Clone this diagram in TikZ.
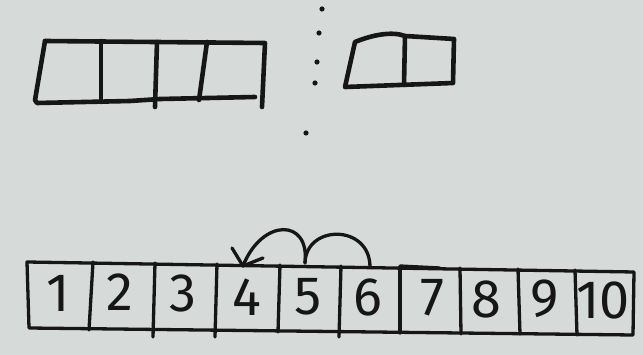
\documentclass[tikz,border=0pt]{standalone}
\usepackage{fontspec}
\setmainfont{Fira Sans}
\definecolor{paper}{RGB}{214,219,217}
\definecolor{ink}{RGB}{22,22,22}
\tikzset{
  pen/.style={draw=ink, line width=4.6pt, line cap=round, line join=round},
  thinpen/.style={draw=ink, line width=3.3pt, line cap=round, line join=round},
  digit/.style={text=ink, font=\fontsize{54}{54}\selectfont, inner sep=0pt, anchor=center},
  inkdot/.style={fill=ink, draw=none}
}
\begin{document}
\begin{tikzpicture}[x=1pt, y=-1pt]
\fill[paper] (0,0) rectangle (643,355);
\useasboundingbox (0,0) rectangle (643,355);
% top-left four-cell array
\draw[pen] (45,41) -- (265,43) -- (262,107);
\draw[pen] (45,41) -- (35,100) -- (37,103) -- (130,101) -- (160,99) -- (255,97);
\draw[pen] (101,41) -- (101,102);
\draw[pen] (157,42) -- (155,107);
\draw[pen] (207,42) -- (199,100);
% dots
\foreach \x/\y in {322/9, 319/33, 317/62, 315/83, 306/133}
  \fill[inkdot] (\x,\y) circle (2.6pt);
% top-right two-cell array
\draw[pen] (355,42) .. controls (372,35) and (392,31) .. (405,36) -- (454,39) -- (453,83) -- (345,87) -- cycle;
\draw[pen] (405,36) -- (404,85);
% bottom ten-cell array
\draw[thinpen] (27,262) -- (634,272) -- (633,335) -- (29,328) -- cycle;
\draw[thinpen] (93,262) -- (89,330);
\draw[thinpen] (155,263) -- (153,337);
\draw[thinpen] (217,264) -- (215,337);
\draw[thinpen] (280,265) -- (278,332);
\draw[thinpen] (341,266) -- (339,337);
\draw[thinpen] (400,267) -- (400,333);
\draw[thinpen] (460,268) -- (461,334);
\draw[thinpen] (518,269) -- (520,334);
\draw[thinpen] (575,270) -- (577,335);
\draw[thinpen] (400,266) -- (440,268);
% numbers
\node[digit] (n1) at (58,293) {1};
\node[digit] (n2) at (120,292) {2};
\node[digit] (n3) at (183,293) {3};
\node[digit] (n4) at (247,297) {4};
\node[digit] (n5) at (308,297) {5};
\node[digit] (n6) at (368,297) {6};
\node[digit] (n7) at (432,298) {7};
\node[digit] (n8) at (486,299) {8};
\node[digit] (n9) at (545,299) {9};
\node[digit] (n10) at (603,300) {10};
% jump arcs 6 -> 5 -> 4
\coordinate (t6) at (370,267);
\coordinate (t5) at (305,263);
\coordinate (t4) at (243,266);
\draw[thinpen] (t6) .. controls (370,224) and (306,224) .. (t5);
\draw[thinpen] (t5) .. controls (310,218) and (262,218) .. (t4);
\draw[thinpen] (t4) -- ++(-11,-18);
\draw[thinpen] (t4) -- ++(20,-8);
\end{tikzpicture}
\end{document}
